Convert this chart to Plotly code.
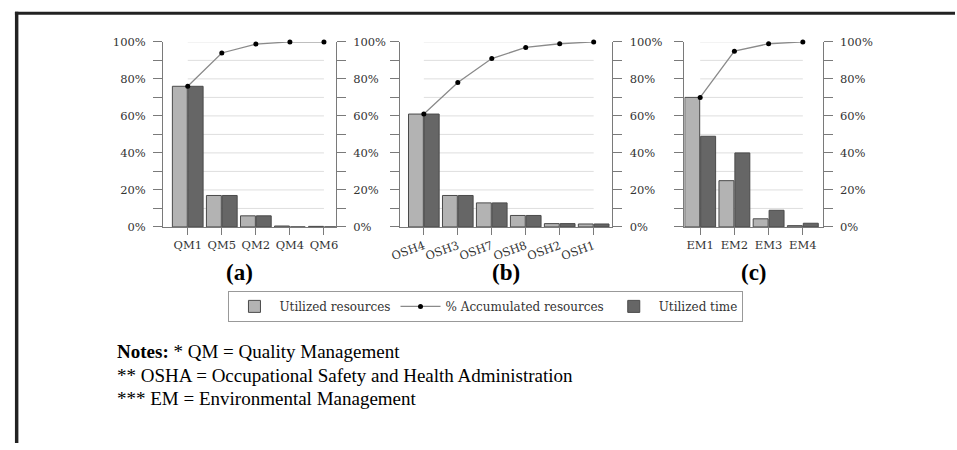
import plotly.graph_objects as go

# ---------------- data ----------------
qm_cats = ["QM1", "QM5", "QM2", "QM4", "QM6"]
qm_resources = [76, 17, 6, 0.5, 0.3]
qm_time = [76, 17, 6, 0, 0]
qm_cum = [76, 94, 98.8, 100, 100]

osh_cats = ["OSH4", "OSH3", "OSH7", "OSH8", "OSH2", "OSH1"]
osh_resources = [61, 17, 13, 6.2, 1.8, 1.6]
osh_time = [61, 17, 13, 6.2, 1.8, 1.6]
osh_cum = [61, 78, 91, 97, 99, 100]

em_cats = ["EM1", "EM2", "EM3", "EM4"]
em_resources = [70, 25, 4.4, 0.7]
em_time = [49, 40, 9, 2]
em_cum = [70, 95, 99, 100]

y_tickvals = [0, 20, 40, 60, 80, 100]
y_ticktext = ["0%", "20%", "40%", "60%", "80%", "100%"]
grid_levels = [10, 20, 30, 40, 50, 60, 70, 80, 90, 100]
panel_labels = ["(a)", "(b)", "(c)"]
legend_names = ["Utilized resources", "% Accumulated resources", "Utilized time"]
notes_lines = [
    "<b>Notes:</b> * QM = Quality Management",
    "** OSHA = Occupational Safety and Health Administration",
    "*** EM = Environmental Management",
]

# ---------------- layout helpers ----------------
W, H = 957, 450
def fx(p):
    return p / W
def fy(p):
    return 1 - p / H

LIGHT = "#b3b3b3"
DARK = "#666666"
EDGE = "#4a4a4a"
AXC = "#7a7a7a"
GRID = "#dedede"
TXT = "#333333"
TICKFONT = dict(family="DejaVu Serif", size=11.5, color=TXT)

panels = [
    dict(cats=qm_cats, res=qm_resources, tim=qm_time, cum=qm_cum,
         dom=(155, 330), rng=[-0.725, 4.35], angle=0, label_x=232,
         left_labels=True),
    dict(cats=osh_cats, res=osh_resources, tim=osh_time, cum=osh_cum,
         dom=(395, 610), rng=[-0.70, 5.55], angle=-20, label_x=502,
         left_labels=False),
    dict(cats=em_cats, res=em_resources, tim=em_time, cum=em_cum,
         dom=(683, 823), rng=[-0.46, 3.58], angle=0, label_x=753,
         left_labels=False),
]

fig = go.Figure()
layout = {}
shapes = []
annotations = []
y_dom = [fy(227), fy(36)]

for i, p in enumerate(panels):
    xi = "" if i == 0 else str(i + 1)
    yl = str(2 * i + 1) if i > 0 else ""
    yr = str(2 * i + 2)
    xref = "x" + xi
    yref = "y" + yl
    yref2 = "y" + yr
    first = (i == 0)

    fig.add_trace(go.Bar(
        x=p["cats"], y=p["res"], name=legend_names[0],
        marker=dict(color=LIGHT, line=dict(color=EDGE, width=1)),
        xaxis=xref, yaxis=yref, showlegend=first, legendrank=1,
        legendgroup="res"))
    fig.add_trace(go.Bar(
        x=p["cats"], y=p["tim"], name=legend_names[2],
        marker=dict(color=DARK, line=dict(color=EDGE, width=1)),
        xaxis=xref, yaxis=yref, showlegend=first, legendrank=3,
        legendgroup="tim"))
    fig.add_trace(go.Scatter(
        x=p["cats"], y=p["cum"], name=legend_names[1], mode="lines+markers",
        line=dict(color="#8a8a8a", width=1.3),
        marker=dict(color="black", size=5),
        xaxis=xref, yaxis=yref2, showlegend=first, legendrank=2,
        legendgroup="cum", cliponaxis=False))

    layout["xaxis" + xi] = dict(
        domain=[fx(p["dom"][0]), fx(p["dom"][1])], anchor=yref,
        type="category", range=p["rng"], showgrid=False,
        showline=True, linecolor=AXC, linewidth=1,
        ticks="outside", ticklen=7, tickcolor=AXC,
        tickangle=p["angle"], tickfont=TICKFONT, zeroline=False,
        fixedrange=True)
    common_y = dict(
        domain=y_dom, range=[0, 100], showgrid=False, zeroline=False,
        showline=True, linecolor=AXC, linewidth=1,
        tickvals=y_tickvals, ticktext=y_ticktext,
        ticks="outside", ticklen=9, tickcolor=AXC, tickfont=TICKFONT,
        minor=dict(dtick=10, tick0=0, ticks="outside", ticklen=9,
                   tickcolor=AXC, showgrid=False),
        ticklabelstandoff=5, fixedrange=True)
    layout["yaxis" + yl] = dict(anchor=xref, side="left",
                                showticklabels=p["left_labels"], **common_y)
    layout["yaxis" + yr] = dict(anchor=xref, side="right",
                                overlaying=yref, **common_y)

    for g in grid_levels:
        shapes.append(dict(type="line", xref=xref, yref=yref,
                           x0=p["cats"][0], x1=p["cats"][-1], y0=g, y1=g,
                           line=dict(color=GRID, width=1), layer="below"))

    annotations.append(dict(
        text="<b>" + panel_labels[i] + "</b>", xref="paper", yref="paper",
        x=fx(p["label_x"]), y=fy(274), xanchor="center", yanchor="middle",
        showarrow=False,
        font=dict(family="Liberation Serif", size=23, color="black")))

# frame lines of the original figure
shapes.append(dict(type="rect", xref="paper", yref="paper",
                   x0=fx(5), x1=fx(957), y0=fy(8), y1=fy(5),
                   fillcolor="#222222", line=dict(width=0)))
shapes.append(dict(type="rect", xref="paper", yref="paper",
                   x0=fx(5), x1=fx(8.5), y0=fy(450), y1=fy(5),
                   fillcolor="#222222", line=dict(width=0)))

for k, line in enumerate(notes_lines):
    annotations.append(dict(
        text=line, xref="paper", yref="paper", x=fx(106), y=fy(356 + 24 * k),
        xanchor="left", yanchor="middle", showarrow=False,
        font=dict(family="Liberation Serif", size=19, color="black")))

fig.update_layout(
    width=W, height=H, margin=dict(l=0, r=0, t=0, b=0),
    paper_bgcolor="white", plot_bgcolor="white",
    barmode="group", bargap=0.07, bargroupgap=0.06,
    showlegend=True,
    legend=dict(orientation="h", x=fx(482), xanchor="center",
                y=fy(293), yanchor="top", bgcolor="white",
                bordercolor="#999999", borderwidth=1, itemwidth=40,
                font=dict(family="DejaVu Serif", size=12, color=TXT),
                traceorder="normal"),
    shapes=shapes, annotations=annotations,
    **layout)

fig.write_html(
    "out.html",
    config={"displayModeBar": False},
    post_script="document.body.style.margin='0';document.body.style.padding='0';"
                "document.documentElement.style.overflow='hidden';",
)
